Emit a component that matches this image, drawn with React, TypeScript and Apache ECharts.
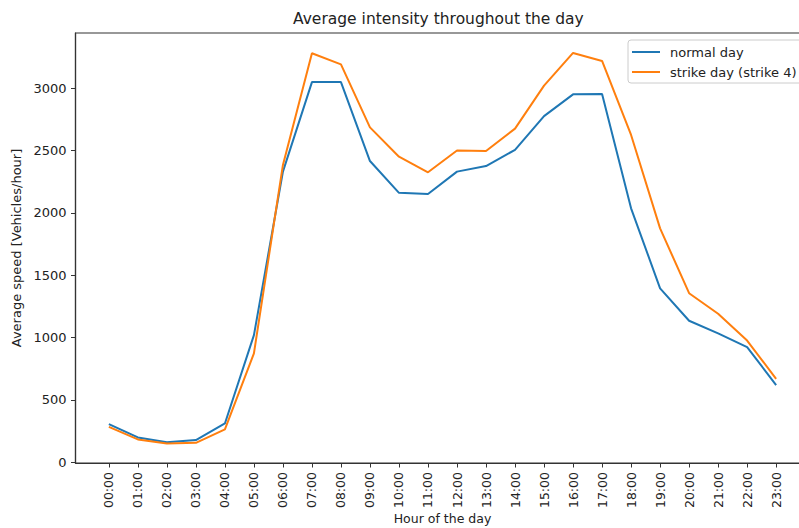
import React, { useEffect, useRef } from "react";
import * as echarts from "echarts";

const hours = [
  "00:00", "01:00", "02:00", "03:00", "04:00", "05:00", "06:00", "07:00",
  "08:00", "09:00", "10:00", "11:00", "12:00", "13:00", "14:00", "15:00",
  "16:00", "17:00", "18:00", "19:00", "20:00", "21:00", "22:00", "23:00",
];

const normalDay = [
  305, 198, 160, 177, 310, 1019, 2330, 3048, 3048, 2415, 2160, 2150,
  2330, 2375, 2505, 2775, 2950, 2952, 2036, 1394, 1134, 1033, 922, 618,
];

const strikeDay = [
  283, 182, 150, 155, 262, 872, 2384, 3280, 3190, 2685, 2450, 2325,
  2500, 2495, 2675, 3020, 3282, 3218, 2624, 1875, 1355, 1190, 975, 668,
];

const yTicks = [0, 500, 1000, 1500, 2000, 2500, 3000];

const seriesNames = ["normal day", "strike day (strike 4)"];

const FONT = "DejaVu Sans";
const TEXT = "#222";
const SPINE = "#333";

export default function App() {
  const ref = useRef<HTMLDivElement>(null);

  useEffect(() => {
    if (!ref.current) return;
    const chart = echarts.init(ref.current, undefined, { renderer: "svg" });
    const xIdx = hours.map((_, i) => i);
    chart.setOption({
      animation: false,
      backgroundColor: "#fff",
      textStyle: { fontFamily: FONT },
      title: {
        text: "Average intensity throughout the day",
        left: 293,
        top: 11,
        padding: 0,
        textStyle: { fontFamily: FONT, fontSize: 15.5, fontWeight: "normal", color: TEXT },
      },
      legend: {
        data: seriesNames,
        orient: "vertical",
        left: 628,
        top: 40,
        padding: [5, 8, 4, 4],
        itemGap: 6,
        itemWidth: 28,
        itemHeight: 2,
        icon: "rect",
        borderColor: "#cccccc",
        borderWidth: 1,
        borderRadius: 3,
        backgroundColor: "rgba(255,255,255,0.8)",
        textStyle: {
          fontFamily: FONT,
          fontSize: 13,
          color: TEXT,
          lineHeight: 14,
          padding: [0, 0, 0, 5],
        },
      },
      grid: {
        left: 75.5,
        top: 33,
        width: 734,
        height: 430,
        containLabel: false,
        outerBoundsMode: "none",
        show: true,
        borderColor: SPINE,
        borderWidth: 1.2,
        backgroundColor: "#fff",
      },
      xAxis: {
        type: "value",
        min: -1.15,
        max: 24.15,
        name: "Hour of the day",
        nameLocation: "middle",
        nameGap: 49,
        nameMoveOverlap: false,
        nameTextStyle: { fontFamily: FONT, fontSize: 12.5, color: TEXT, lineHeight: 13 },
        axisLine: { show: true, onZero: false, lineStyle: { color: SPINE, width: 1.2 } },
        axisTick: {
          show: true,
          length: 4.5,
          customValues: xIdx,
          lineStyle: { color: SPINE, width: 1 },
        },
        axisLabel: {
          customValues: xIdx,
          rotate: 90,
          margin: 9,
          fontFamily: FONT,
          fontSize: 12.5,
          color: TEXT,
          formatter: (v: number) => hours[Math.round(v)] ?? "",
        },
        splitLine: { show: false },
      },
      yAxis: {
        type: "value",
        min: -7,
        max: 3442,
        name: "Average speed [Vehicles/hour]",
        nameLocation: "middle",
        nameGap: 48,
        nameRotate: 90,
        nameTextStyle: { fontFamily: FONT, fontSize: 13, color: TEXT },
        axisLine: { show: true, onZero: false, lineStyle: { color: SPINE, width: 1.2 } },
        axisTick: {
          show: true,
          length: 4.5,
          customValues: yTicks,
          lineStyle: { color: SPINE, width: 1 },
        },
        axisLabel: {
          customValues: yTicks,
          margin: 9,
          fontFamily: FONT,
          fontSize: 13,
          color: TEXT,
          formatter: (v: number) => String(v),
        },
        splitLine: { show: false },
      },
      series: [
        {
          name: seriesNames[0],
          type: "line",
          data: normalDay.map((v, i) => [i, v]),
          symbol: "none",
          lineStyle: { color: "#1f77b4", width: 2 },
          itemStyle: { color: "#1f77b4" },
        },
        {
          name: seriesNames[1],
          type: "line",
          data: strikeDay.map((v, i) => [i, v]),
          symbol: "none",
          lineStyle: { color: "#ff7f0e", width: 2 },
          itemStyle: { color: "#ff7f0e" },
        },
      ],
    });
    return () => chart.dispose();
  }, []);

  return (
    <div
      ref={ref}
      style={{ position: "fixed", left: 0, top: 0, width: 799, height: 528, background: "#fff" }}
    />
  );
}
